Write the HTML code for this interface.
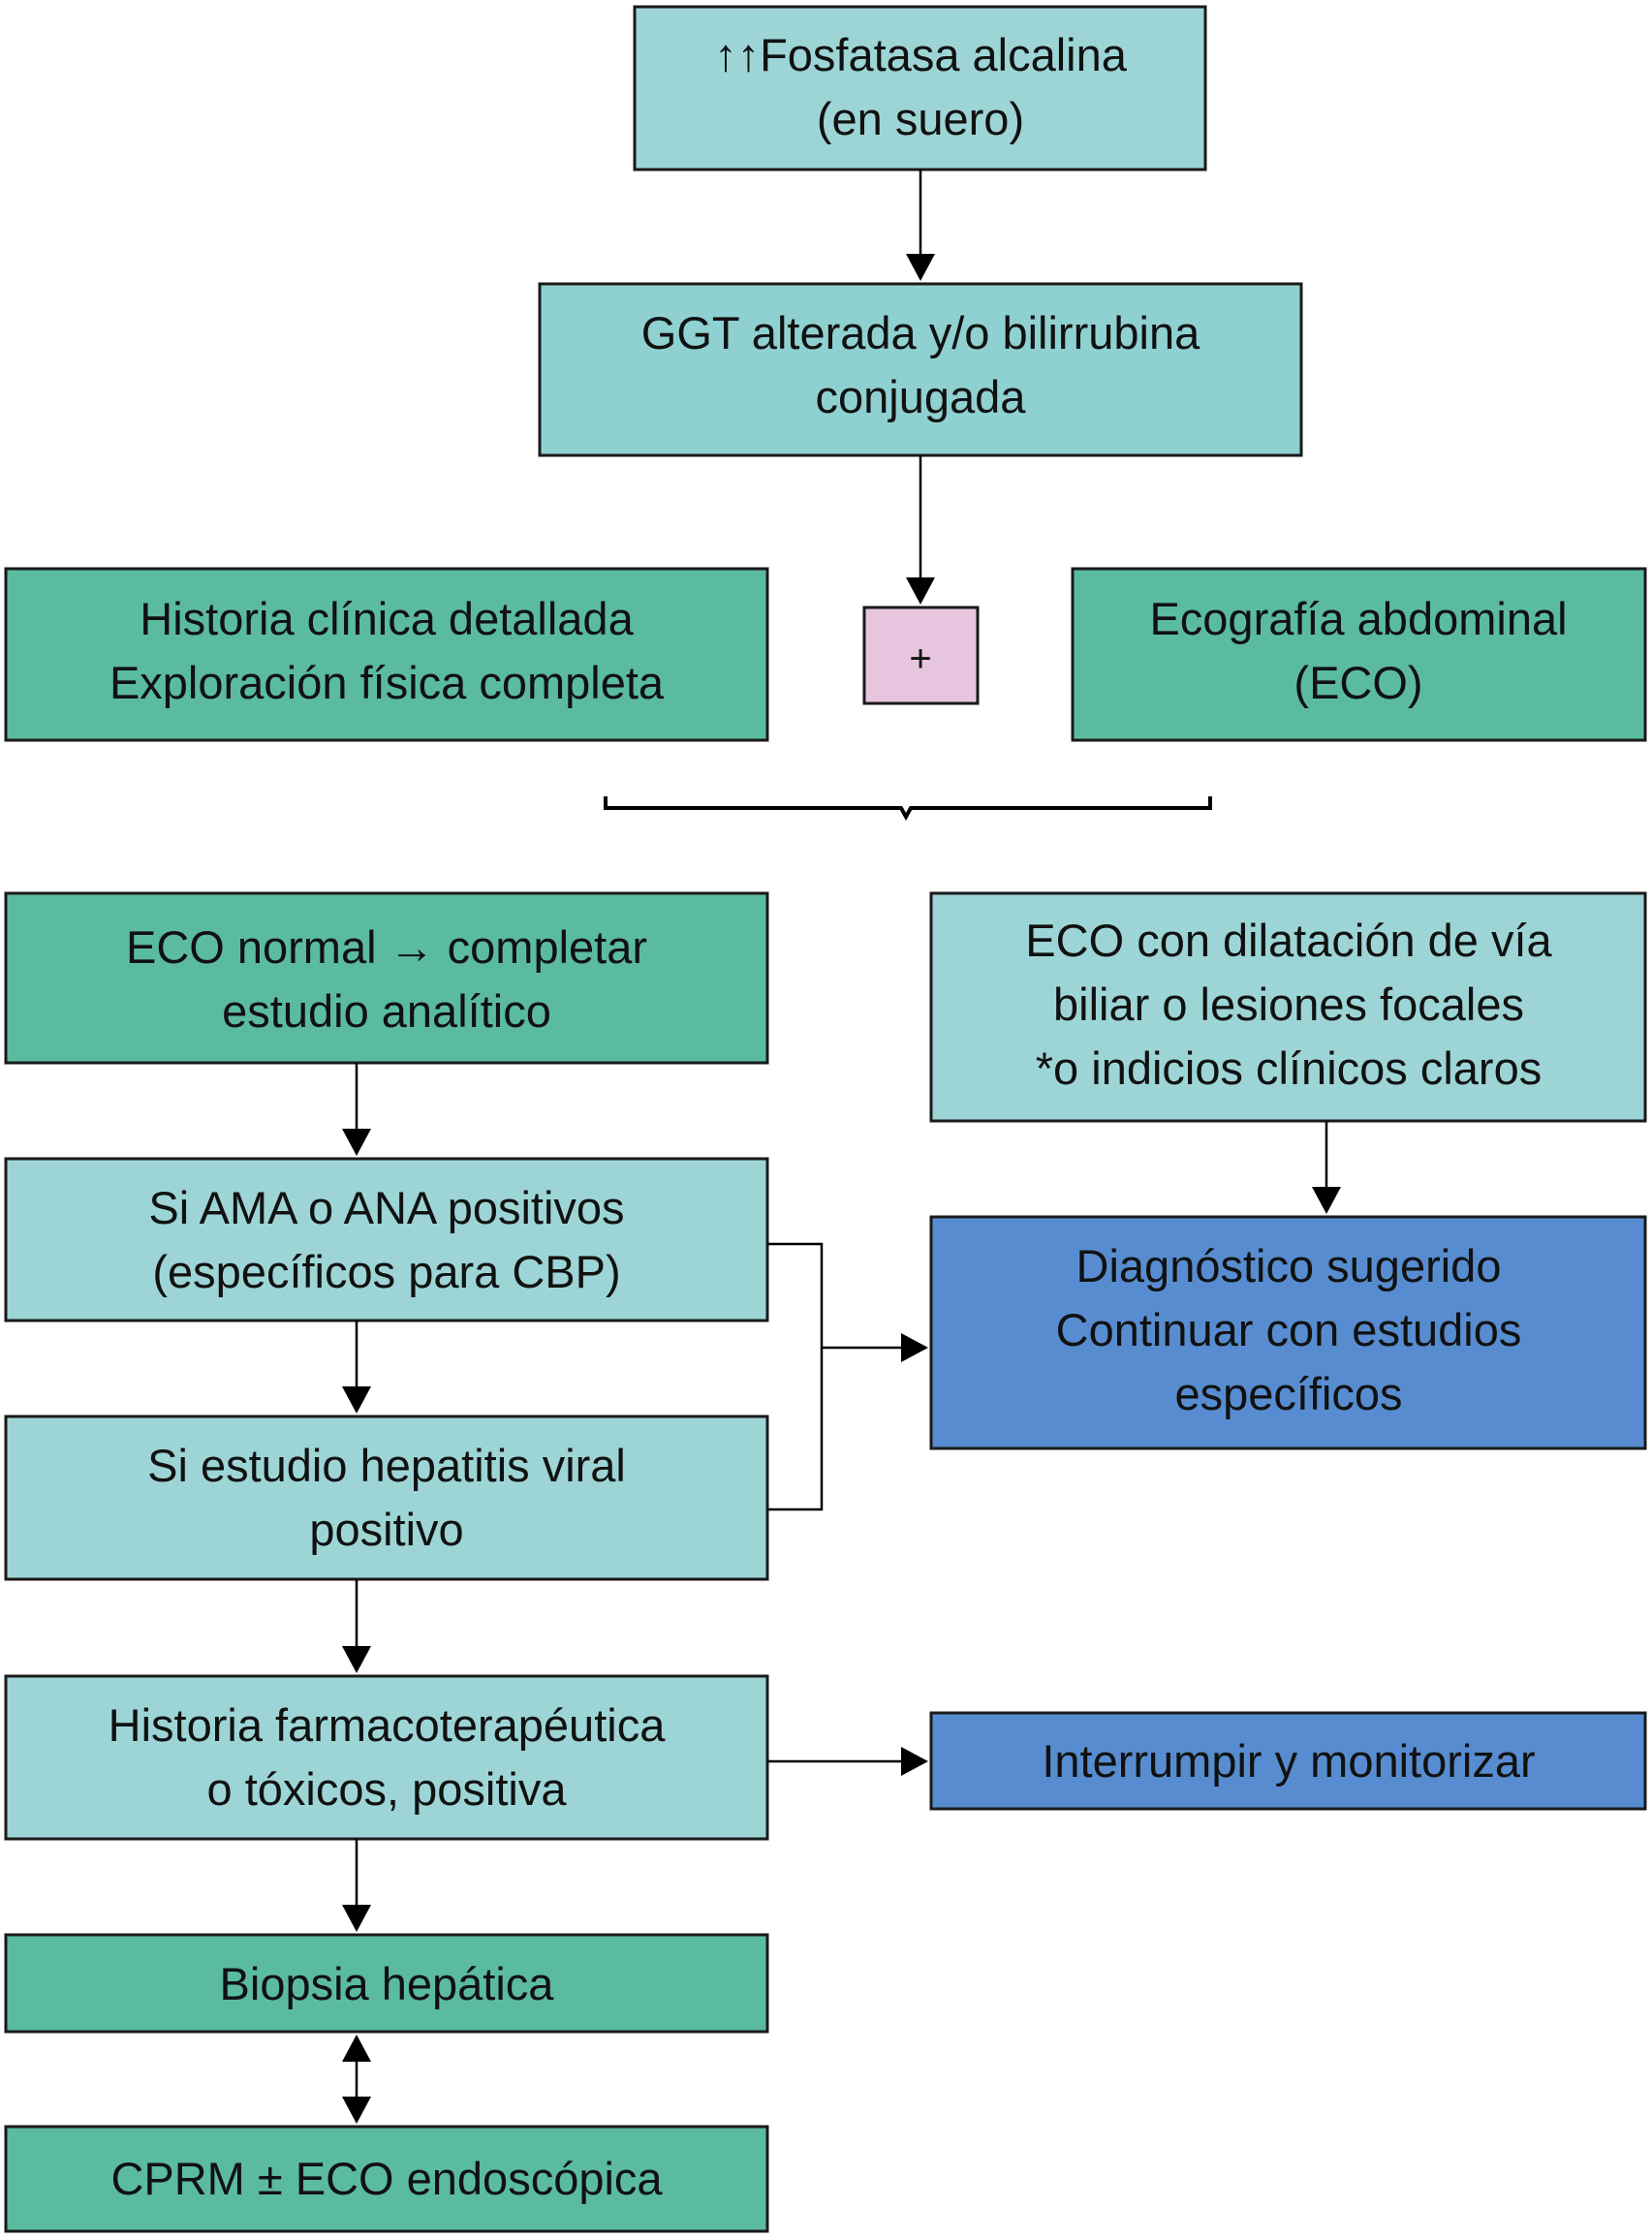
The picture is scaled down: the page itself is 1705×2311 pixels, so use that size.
<!DOCTYPE html>
<html><head><meta charset="utf-8"><style>
html,body{margin:0;padding:0;background:#fff}
svg{display:block}
text{font-family:"Liberation Sans",sans-serif;font-size:47px;fill:#111;text-anchor:middle}
</style></head><body>
<svg width="1705" height="2311" viewBox="0 0 1705 2311" xmlns="http://www.w3.org/2000/svg">
<defs><marker id="a" markerWidth="10" markerHeight="10" refX="9" refY="5" orient="auto" markerUnits="userSpaceOnUse"><path d="M0,0 L10,5 L0,10z" fill="#000"/></marker></defs>
<g stroke="#1a1a1a" stroke-width="3">
<rect x="655" y="7" width="589" height="168" fill="#9dd5d6"/>
<rect x="557" y="293" width="786" height="177" fill="#8fd1d1"/>
<rect x="6" y="587" width="786" height="177" fill="#5bbba1"/>
<rect x="892" y="627" width="117" height="99" fill="#e8c5df"/>
<rect x="1107" y="587" width="591" height="177" fill="#5bbba1"/>
<rect x="6" y="922" width="786" height="175" fill="#5bbba1"/>
<rect x="961" y="922" width="737" height="235" fill="#9dd5d6"/>
<rect x="6" y="1196" width="786" height="167" fill="#9dd5d6"/>
<rect x="961" y="1256" width="737" height="239" fill="#578dd0"/>
<rect x="6" y="1462" width="786" height="168" fill="#9dd5d6"/>
<rect x="6" y="1730" width="786" height="168" fill="#9dd5d6"/>
<rect x="961" y="1768" width="737" height="99" fill="#578dd0"/>
<rect x="6" y="1997" width="786" height="100" fill="#5bbba1"/>
<rect x="6" y="2195" width="786" height="108" fill="#5bbba1"/>
</g>
<g stroke="#000" stroke-width="2.5" fill="none">
<path d="M950 175V262"/><path d="M950 470V596"/>
<path d="M368 1097V1165"/><path d="M368 1363V1431"/><path d="M368 1630V1699"/><path d="M368 1898V1966"/>
<path d="M368 2128V2164"/>
<path d="M1369 1157V1225"/>
<path d="M792 1284H848V1558H792"/><path d="M848 1391H930"/>
<path d="M792 1818H930"/>
<path d="M625 822V834H930L935 843L940 834H1249V822" stroke-width="4"/>
</g>
<g fill="#000">
<path d="M935 262h30l-15 28z"/><path d="M935 596h30l-15 28z"/>
<path d="M353 1165h30l-15 28z"/><path d="M353 1431h30l-15 28z"/><path d="M353 1699h30l-15 28z"/><path d="M353 1966h30l-15 28z"/>
<path d="M353 2164h30l-15 28z"/><path d="M353 2128h30l-15 -28z"/>
<path d="M1354 1225h30l-15 28z"/>
<path d="M930 1376v30l28-15z"/><path d="M930 1803v30l28-15z"/>
</g>
<text x="950" y="73">↑↑Fosfatasa alcalina</text><text x="950" y="139">(en suero)</text>
<text x="950" y="360">GGT alterada y/o bilirrubina</text><text x="950" y="426">conjugada</text>
<text x="399" y="655">Historia clínica detallada</text><text x="399" y="721">Exploración física completa</text>
<text x="950" y="693" style="font-size:40px">+</text>
<text x="1402" y="655">Ecografía abdominal</text><text x="1402" y="721">(ECO)</text>
<text x="399" y="994">ECO normal → completar</text><text x="399" y="1060">estudio analítico</text>
<text x="1330" y="987">ECO con dilatación de vía</text><text x="1330" y="1053">biliar o lesiones focales</text><text x="1330" y="1119">*o indicios clínicos claros</text>
<text x="399" y="1263">Si AMA o ANA positivos</text><text x="399" y="1329">(específicos para CBP)</text>
<text x="1330" y="1323">Diagnóstico sugerido</text><text x="1330" y="1389">Continuar con estudios</text><text x="1330" y="1455">específicos</text>
<text x="399" y="1529">Si estudio hepatitis viral</text><text x="399" y="1595">positivo</text>
<text x="399" y="1797">Historia farmacoterapéutica</text><text x="399" y="1863">o tóxicos, positiva</text>
<text x="1330" y="1834">Interrumpir y monitorizar</text>
<text x="399" y="2064">Biopsia hepática</text>
<text x="399" y="2265">CPRM ± ECO endoscópica</text>
</svg>
</body></html>
